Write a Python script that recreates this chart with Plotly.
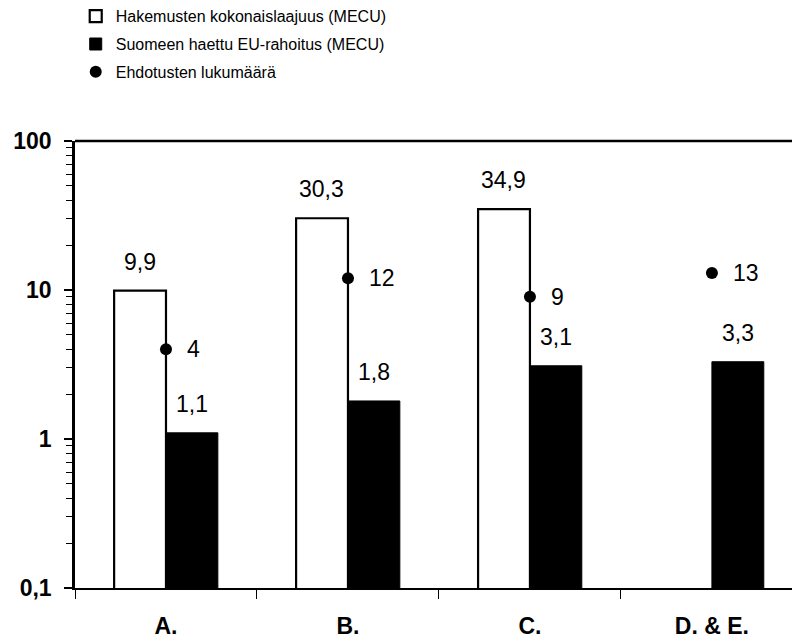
import math
import plotly.graph_objects as go

categories = ["A.", "B.", "C.", "D. & E."]
total_mecu = [9.9, 30.3, 34.9, None]          # Hakemusten kokonaislaajuus (MECU)
finland_eu = [1.1, 1.8, 3.1, 3.3]             # Suomeen haettu EU-rahoitus (MECU)
proposals = [4, 12, 9, 13]                    # Ehdotusten lukumäärä
series_names = ["Hakemusten kokonaislaajuus (MECU)",
                "Suomeen haettu EU-rahoitus (MECU)",
                "Ehdotusten lukumäärä"]
y_tick_vals = [0.1, 1, 10, 100]
y_tick_text = ["0,1", "1", "10", "100"]

FONT = "Liberation Sans, Arial, Helvetica, sans-serif"

def fi(v):
    return f"{v:.1f}".replace(".", ",")

fig = go.Figure()
fig.add_trace(go.Bar(
    x=categories, y=total_mecu, name=series_names[0],
    marker=dict(color="white", line=dict(color="black", width=2.2)),
    legendgroup="g1",
))
fig.add_trace(go.Bar(
    x=categories, y=finland_eu, name=series_names[1],
    marker=dict(color="black", line=dict(color="black", width=1)),
    legendgroup="g2",
))
fig.add_trace(go.Scatter(
    x=categories, y=proposals, name=series_names[2], mode="markers",
    marker=dict(color="black", size=12, symbol="circle"),
    legendgroup="g3",
))

ann = []
for c, v in zip(categories, total_mecu):
    if v is not None:
        ann.append(dict(x=c, y=math.log10(v), text=fi(v), showarrow=False,
                        xanchor="center", yanchor="bottom", xshift=-26, yshift=14,
                        font=dict(size=23, color="black", family=FONT)))
for c, v in zip(categories, finland_eu):
    ann.append(dict(x=c, y=math.log10(v), text=fi(v), showarrow=False,
                    xanchor="center", yanchor="bottom", xshift=26, yshift=14,
                    font=dict(size=23, color="black", family=FONT)))
for c, v in zip(categories, proposals):
    ann.append(dict(x=c, y=math.log10(v), text=str(v), showarrow=False,
                    xanchor="left", yanchor="middle", xshift=19, yshift=0,
                    font=dict(size=23, color="black", family=FONT)))

fig.update_layout(
    width=792, height=632,
    margin=dict(l=67, r=0, t=133, b=52, autoexpand=False),
    paper_bgcolor="white", plot_bgcolor="white",
    font=dict(family=FONT, color="black"),
    barmode="group", bargap=0.43, bargroupgap=0,
    showlegend=True,
    legend=dict(x=0.001, y=1.317, xanchor="left", yanchor="top",
                font=dict(size=16, family=FONT, color="black"),
                traceorder="grouped", tracegroupgap=4,
                bgcolor="rgba(0,0,0,0)", itemwidth=30),
    annotations=ann,
    shapes=[dict(type="line", xref="paper", yref="paper", x0=0, x1=1, y0=1, y1=1,
                 line=dict(color="black", width=2.5))],
)
fig.update_xaxes(
    type="category", categoryorder="array", categoryarray=categories,
    range=[-0.5, 3.484], showline=True, linecolor="black", linewidth=2,
    ticks="outside", tickson="boundaries", ticklen=9, tickcolor="black", tickwidth=1,
    showgrid=False, zeroline=False, ticklabelstandoff=16, automargin=False,
    tickfont=dict(size=23, family="Liberation Sans, Arial, sans-serif", weight="bold", color="black"),
)
fig.update_yaxes(
    type="log", range=[-1, 2], showline=True, linecolor="black", linewidth=2.5,
    tickvals=y_tick_vals, ticktext=y_tick_text,
    ticks="outside", ticklen=8, tickcolor="black", tickwidth=1.5,
    minor=dict(ticks="outside", ticklen=6, tickcolor="black", tickwidth=1,
               dtick="D1", showgrid=False),
    showgrid=False, zeroline=False, ticklabelstandoff=8, automargin=False,
    tickfont=dict(size=23, family="Liberation Sans, Arial, sans-serif", weight="bold", color="black"),
)

fig.write_html("out.html")
